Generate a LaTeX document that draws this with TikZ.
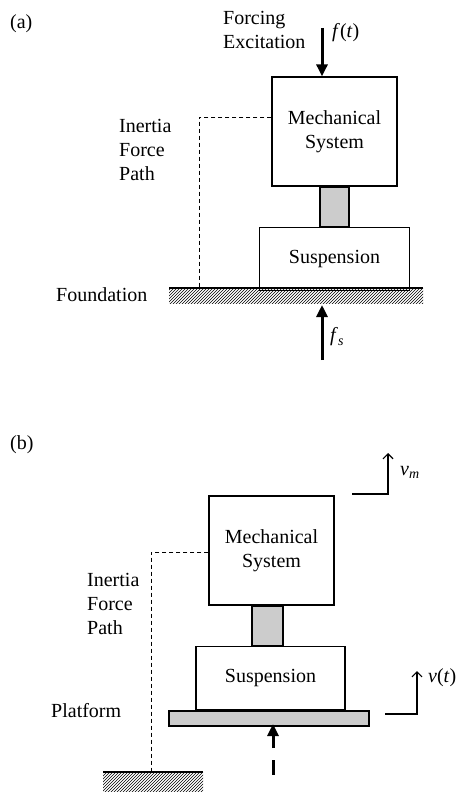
\documentclass[tikz,border=0pt]{standalone}
\usepackage{fontspec}
\setmainfont{Liberation Serif}
\usetikzlibrary{positioning,arrows.meta,patterns}

\tikzset{
  txt/.style={inner sep=0pt, align=left, font=\fontsize{20}{24}\selectfont},
  box/.style={draw, line width=1.3pt, align=center, inner sep=0pt, font=\fontsize{20}{24}\selectfont},
  link/.style={draw, line width=1.3pt, fill=gray!40, inner sep=0pt},
  ifpath/.style={line width=0.8pt, dash pattern=on 4pt off 3pt},
  force/.style={line width=3pt, -{Triangle[length=12pt,width=11pt]}},
  vel/.style={line width=1.2pt, -{Straight Barb[length=5pt,width=10pt]}},
  ground/.style={pattern=north east lines, draw=none},
}

\begin{document}
\begin{tikzpicture}[x=1pt, y=-1pt]
  \useasboundingbox (0,0) rectangle (457,792);

  % (a) mounted on a fixed foundation
  \node[txt, anchor=west] (taga) at (10,24) {(a)};
  \node[box, minimum width=125pt, minimum height=109pt] (massa) at (334.5,131.5) {Mechanical\\System};
  \node[link, minimum width=29pt, minimum height=39pt, below=0pt of massa] (linka) {};
  \node[box, minimum width=150pt, minimum height=63pt, below=0pt of linka] (suspa) {Suspension};

  \coordinate (fla) at (169,288);
  \coordinate (fra) at (423,288);
  \fill[ground] (fla) rectangle ++(254,15);
  \draw[line width=1.8pt] (fla) -- (fra);
  \node[txt, anchor=west] (founda) at (56,295) {Foundation};

  \coordinate (fta) at (322,28);
  \draw[force] (fta) -- (fta |- massa.north);
  \node[txt, anchor=west] (forcea) at (223,30) {Forcing\\Excitation};
  \node[txt, anchor=west] (ftlbl) at (332,33) {\textit{f}(\textit{t})};

  \node[txt, anchor=west] (ipatha) at (119,150) {Inertia\\Force\\Path};
  \coordinate (dca) at (199,117);
  \draw[ifpath] (massa.west |- dca) -- (dca) -- (dca |- fla);

  \coordinate (fsa) at (322,360);
  \coordinate (fst) at (322,305);
  \draw[force] (fsa) -- (fst);
  \node[txt, anchor=west] (fslbl) at (330,337) {\textit{f}\textsubscript{\textit{s}}};

  % (b) mounted on a moving platform
  \node[txt, anchor=west] (tagb) at (10,445) {(b)};
  \node[box, minimum width=125pt, minimum height=109pt] (massb) at (271.5,550.5) {Mechanical\\System};
  \node[link, minimum width=31pt, minimum height=39pt, below=0pt of massb, xshift=-4pt] (linkb) {};
  \node[box, minimum width=149pt, minimum height=63pt, below=0pt of linkb, xshift=3pt] (suspb) {Suspension};
  \node[link, minimum width=200pt, minimum height=15pt, below=0pt of suspb, xshift=-1.5pt] (platb) {};
  \node[txt, anchor=west] (platlbl) at (51,711) {Platform};

  \node[txt, anchor=west] (ipathb) at (87,604) {Inertia\\Force\\Path};
  \coordinate (dcb) at (151,552);
  \coordinate (glb) at (103,772);
  \coordinate (grb) at (203,772);
  \draw[ifpath] (massb.west |- dcb) -- (dcb) -- (dcb |- glb);
  \fill[ground] (glb) rectangle ++(100,22);
  \draw[line width=1.8pt] (glb) -- (grb);

  \coordinate (vma) at (352,494);
  \coordinate (vmb) at (388,494);
  \coordinate (vmt) at (388,453);
  \draw[vel] (vma) -- (vmb) -- (vmt);
  \node[txt, anchor=west] (vmlbl) at (400,472) {\textit{v}\textsubscript{\textit{m}}};

  \coordinate (vta) at (385,714);
  \coordinate (vtb) at (417,714);
  \coordinate (vtt) at (417,671);
  \draw[vel] (vta) -- (vtb) -- (vtt);
  \node[txt, anchor=west] (vtlbl) at (428,678) {\textit{v}(\textit{t})};

  \coordinate (pfa) at (273,748);
  \coordinate (pft) at (273,724);
  \draw[force] (pfa) -- (pft);
  \coordinate (pda) at (273,760);
  \coordinate (pdb) at (273,775);
  \draw[line width=3pt] (pda) -- (pdb);
\end{tikzpicture}
\end{document}
